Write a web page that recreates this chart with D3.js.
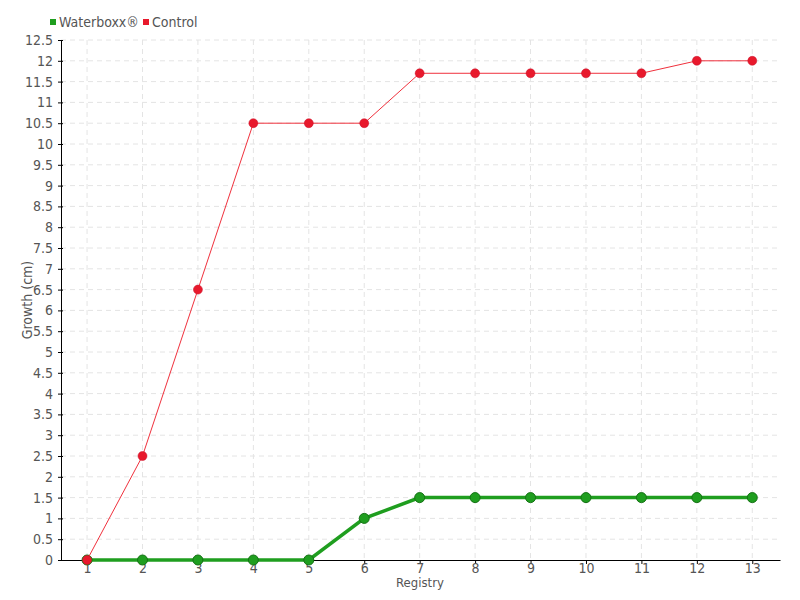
<!DOCTYPE html>
<html>
<head>
<meta charset="utf-8">
<script src="https://cdn.jsdelivr.net/npm/d3@7"></script>
<style>
  body { margin: 0; background: #fff; }
  text { font-family: "Liberation Sans Narrow", "DejaVu Sans Condensed", sans-serif; fill: #555; }
</style>
</head>
<body>
<div id="chart"></div>
<script>
// data
const registry = [1, 2, 3, 4, 5, 6, 7, 8, 9, 10, 11, 12, 13]
const waterboxx = [0, 0, 0, 0, 0, 1, 1.5, 1.5, 1.5, 1.5, 1.5, 1.5, 1.5]
const control = [0, 2.5, 6.5, 10.5, 10.5, 10.5, 11.7, 11.7, 11.7, 11.7, 11.7, 12, 12]
const yTicks = d3.range(0, 12.51, 0.5)

const width = 800, height = 600
const margin = { top: 40, right: 20, bottom: 40, left: 61 }

const svg = d3.select("#chart").append("svg")
  .attr("width", width)
  .attr("height", height)

// scales
const x = d3.scaleLinear()
  .domain([0.53, 13.5])
  .range([margin.left, width - margin.right])
const y = d3.scaleLinear()
  .domain([0, 12.5])
  .range([height - margin.bottom, margin.top])

// grid
const grid = svg.append("g").attr("stroke", "#e4e4e4").attr("stroke-dasharray", "5,4")
grid.selectAll("line.h").data(yTicks.slice(1)).enter().append("line")
  .attr("x1", margin.left).attr("x2", width - margin.right)
  .attr("y1", d => y(d)).attr("y2", d => y(d))
grid.selectAll("line.v").data(registry).enter().append("line")
  .attr("x1", d => x(d)).attr("x2", d => x(d))
  .attr("y1", margin.top).attr("y2", height - margin.bottom)

// axes
const yAxis = svg.append("g")
  .attr("transform", "translate(" + margin.left + ",0)")
  .call(d3.axisLeft(y).tickValues(yTicks).tickFormat(d3.format("~g")).tickSize(4).tickSizeOuter(0))
yAxis.selectAll(".tick line").attr("x2", 2).attr("x1", -3)
yAxis.selectAll("text").attr("font-size", 14).attr("dx", "-1")

const xAxis = svg.append("g")
  .attr("transform", "translate(0," + (height - margin.bottom) + ")")
  .call(d3.axisBottom(x).tickValues(registry).tickFormat(d3.format("d")).tickSize(4).tickSizeOuter(0))
xAxis.selectAll("text").attr("font-size", 14).attr("dy", "0.4em")
svg.selectAll(".domain").attr("stroke", "#000")
svg.selectAll(".tick line").attr("stroke", "#000")

// axis titles
svg.append("text")
  .attr("x", 420).attr("y", 587)
  .attr("text-anchor", "middle")
  .attr("font-size", 13)
  .text("Registry")
svg.append("text")
  .attr("transform", "translate(32," + ((margin.top + height - margin.bottom) / 2) + ")rotate(-90)")
  .attr("text-anchor", "middle")
  .attr("font-size", 14)
  .text("Growth (cm)")

const line = d3.line()
  .x((d, i) => x(registry[i]))
  .y(d => y(d))

// Waterboxx series
svg.append("path")
  .datum(waterboxx)
  .attr("fill", "none")
  .attr("stroke", "#1f9e1f")
  .attr("stroke-width", 3.5)
  .attr("d", line)
svg.selectAll("circle.wb").data(waterboxx).enter().append("circle")
  .attr("cx", (d, i) => x(registry[i]))
  .attr("cy", d => y(d))
  .attr("r", 5)
  .attr("fill", "#1f9e1f")
  .attr("stroke", "#157215")
  .attr("stroke-width", 1)

// Control series
svg.append("path")
  .datum(control)
  .attr("fill", "none")
  .attr("stroke", "#f0303c")
  .attr("stroke-width", 1)
  .attr("d", line)
svg.selectAll("circle.ct").data(control).enter().append("circle")
  .attr("cx", (d, i) => x(registry[i]))
  .attr("cy", d => y(d))
  .attr("r", 4.5)
  .attr("fill", "#e8192c")
  .attr("stroke", "#c8102a")
  .attr("stroke-width", 0.5)

// legend
const legend = [{ name: "Waterboxx®", color: "#1f9e1f", x: 50 }, { name: "Control", color: "#e8192c", x: 143 }]
const lg = svg.selectAll("g.legend").data(legend).enter().append("g")
  .attr("transform", d => "translate(" + d.x + ",22)")
lg.append("rect").attr("x", 0).attr("y", -3).attr("width", 6).attr("height", 6).attr("fill", d => d.color)
lg.append("text").attr("x", 9).attr("y", 5).attr("font-size", 14).text(d => d.name)
</script>
</body>
</html>
